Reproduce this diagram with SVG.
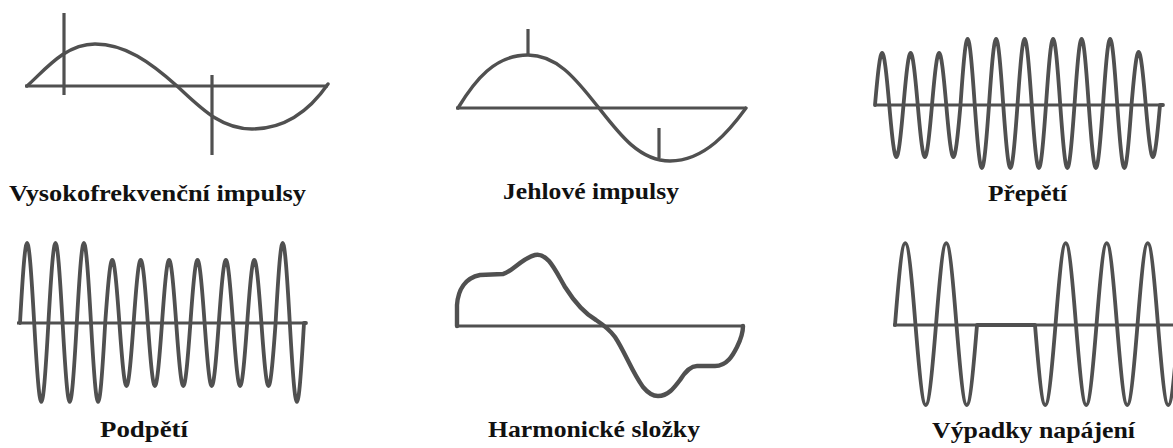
<svg xmlns="http://www.w3.org/2000/svg" width="1173" height="448" viewBox="0 0 1173 448">
<style>
.axis{stroke:#505050;stroke-width:2.8;fill:none}
.wave{stroke:#505050;stroke-width:3.4;fill:none;stroke-linejoin:round;stroke-linecap:round}
.dense{stroke-width:3.8}
.thick{stroke-width:4.4}
.spike{stroke:#505050;stroke-width:3.2;fill:none}
.lbl{font-family:"Liberation Serif",serif;font-weight:bold;font-size:24px;fill:#111}
</style>
<rect width="1173" height="448" fill="#fff"/>
<g id="panel-vysokofrekvencni">
<line class="axis" x1="25" y1="86" x2="328" y2="86"/>
<path class="wave" d="M27,86 C45,70 65,44 95,44 C125,44 150,62 177,86 C200,107 220,129 252,129 C285,129 310,110 328,84"/>
<line class="spike" x1="64" y1="13" x2="64" y2="95"/>
<line class="spike" x1="212" y1="75" x2="212" y2="155"/>
<text class="lbl" x="9" y="201" textLength="297" lengthAdjust="spacingAndGlyphs">Vysokofrekvenční impulsy</text>
</g>
<g id="panel-jehlove">
<line class="axis" x1="456" y1="108" x2="746" y2="108"/>
<path class="wave" d="M458,108 C475,80 495,55 528,55 C560,55 580,85 599,108 C620,135 640,161 670,161 C705,161 730,130 746,108"/>
<line class="spike" x1="528" y1="29" x2="528" y2="55"/>
<line class="spike" x1="659" y1="128" x2="659" y2="158"/>
<text class="lbl" x="503" y="199" textLength="176" lengthAdjust="spacingAndGlyphs">Jehlové impulsy</text>
</g>
<g id="panel-prepeti">
<line class="axis" x1="875" y1="105" x2="1163" y2="105"/>
<path class="wave dense" d="M875,105 c6.05,-69.3 8.2,-69.3 14.25,0 c6.05,69.3 8.2,69.3 14.25,0 c6.05,-69.3 8.2,-69.3 14.25,0 c6.05,69.3 8.2,69.3 14.25,0 c6.05,-69.3 8.2,-69.3 14.25,0 c6.05,69.3 8.2,69.3 14.25,0 c6.05,-88 8.2,-88 14.25,0 c6.05,84 8.2,84 14.25,0 c6.05,-88 8.2,-88 14.25,0 c6.05,84 8.2,84 14.25,0 c6.05,-88 8.2,-88 14.25,0 c6.05,84 8.2,84 14.25,0 c6.05,-88 8.2,-88 14.25,0 c6.05,84 8.2,84 14.25,0 c6.05,-88 8.2,-88 14.25,0 c6.05,84 8.2,84 14.25,0 c6.05,-88 8.2,-88 14.25,0 c6.05,84 8.2,84 14.25,0 c6.05,-70.7 8.2,-70.7 14.25,0 c6.05,69.3 8.2,69.3 14.25,0 L1163,105"/>
<text class="lbl" x="988" y="201" textLength="79" lengthAdjust="spacingAndGlyphs">Přepětí</text>
</g>
<g id="panel-podpeti">
<line class="axis" x1="17" y1="323" x2="306" y2="323"/>
<path class="wave dense" d="M20,323 c6.03,-106.7 8.17,-106.7 14.2,0 c6.03,105.3 8.17,105.3 14.2,0 c6.03,-106.7 8.17,-106.7 14.2,0 c6.03,105.3 8.17,105.3 14.2,0 c6.03,-106.7 8.17,-106.7 14.2,0 c6.03,105.3 8.17,105.3 14.2,0 c6.03,-84 8.17,-84 14.2,0 c6.03,84 8.17,84 14.2,0 c6.03,-84 8.17,-84 14.2,0 c6.03,84 8.17,84 14.2,0 c6.03,-84 8.17,-84 14.2,0 c6.03,84 8.17,84 14.2,0 c6.03,-84 8.17,-84 14.2,0 c6.03,84 8.17,84 14.2,0 c6.03,-84 8.17,-84 14.2,0 c6.03,84 8.17,84 14.2,0 c6.03,-84 8.17,-84 14.2,0 c6.03,84 8.17,84 14.2,0 c6.03,-106.7 8.17,-106.7 14.2,0 c6.03,105.3 8.17,105.3 14.2,0 L306,323"/>
<text class="lbl" x="100" y="437" textLength="88" lengthAdjust="spacingAndGlyphs">Podpětí</text>
</g>
<g id="panel-harmonicke">
<line class="axis" x1="456" y1="326" x2="743" y2="326"/>
<path class="wave thick" d="M457,326 L457,305 C458,290 465,278 480,275 L503,274 C512,272 522,258 535,255 C548,252 556,272 565,287 C572,298 582,312 596,320 C605,326 610,330 615,337 C625,352 632,372 643,387 C648,393 652,396 658,396 C668,396 674,388 680,380 C685,372 690,366 697,366 L715,366 C727,366 733,355 737,347 C742,337 743,330 743,326"/>
<text class="lbl" x="488" y="437" textLength="212" lengthAdjust="spacingAndGlyphs">Harmonické složky</text>
</g>
<g id="panel-vypadky">
<line class="axis" x1="893" y1="325" x2="1173" y2="325"/>
<path class="wave dense" d="M895,325 c8.7,-109.3 11.8,-109.3 20.5,0 c8.7,106.7 11.8,106.7 20.5,0 c8.7,-109.3 11.8,-109.3 20.5,0 c8.7,106.7 11.8,106.7 20.5,0 L1035,325 c8.7,106.7 11.8,106.7 20.5,0 c8.7,-109.3 11.8,-109.3 20.5,0 c8.7,106.7 11.8,106.7 20.5,0 c8.7,-109.3 11.8,-109.3 20.5,0 c8.7,106.7 11.8,106.7 20.5,0 c8.7,-109.3 11.8,-109.3 20.5,0 c8.7,106.7 11.8,106.7 20.5,0 c8.7,-109.3 11.8,-109.3 20.5,0"/>
<text class="lbl" x="932" y="438" textLength="203" lengthAdjust="spacingAndGlyphs">Výpadky napájení</text>
</g>
</svg>
